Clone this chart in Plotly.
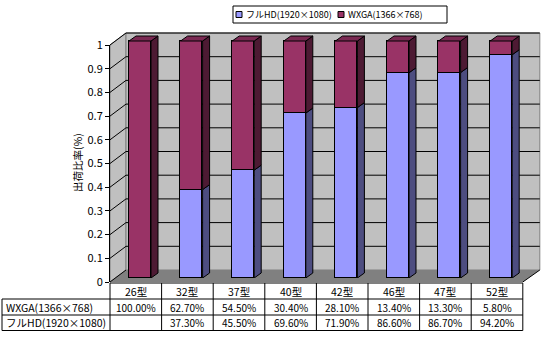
import numpy as np
import plotly.graph_objects as go

# ---------------- data ----------------
categories = ["26型", "32型", "37型", "40型", "42型", "46型", "47型", "52型"]
series_names = ["フルHD(1920×1080)", "WXGA(1366×768)"]
fullhd = [0.0, 0.373, 0.455, 0.696, 0.719, 0.866, 0.867, 0.942]
wxga = [1.000, 0.627, 0.545, 0.304, 0.281, 0.134, 0.133, 0.058]
fullhd_text = ["", "37.30%", "45.50%", "69.60%", "71.90%", "86.60%", "86.70%", "94.20%"]
wxga_text = ["100.00%", "62.70%", "54.50%", "30.40%", "28.10%", "13.40%", "13.30%", "5.80%"]
y_ticks = [0, 0.1, 0.2, 0.3, 0.4, 0.5, 0.6, 0.7, 0.8, 0.9, 1]
y_ticktext = ["0", "0.1", "0.2", "0.3", "0.4", "0.5", "0.6", "0.7", "0.8", "0.9", "1"]
y_title = "出荷比率(%)"

# ---------------- geometry (pixels) ----------------
W, H = 547, 341
FONT = "Noto Sans CJK JP"
n = len(categories)
FX0, FX1 = 110.0, 522.8          # front plane category span
COLW = (FX1 - FX0) / n
FY0, FS = 282.0, 237.0           # front plane v=0 and px per unit
DX, DY = 16.0, -12.0             # wall depth
BDX, BDY = 7.0, -5.0             # bar depth
BAR_OFF_X, BAR_Y0 = 4.2, 278.0   # bar front plane
BAR_W = 22.0 / COLW

def px(x):
    return x / W

def py(y):
    return 1 - y / H

idx = np.arange(n)
colors = {"fhd": ("#9999FF", "#4D4D80", "#7A7ACC"),
          "wx": ("#993366", "#4D1A33", "#7A2952")}

fig = go.Figure()
fig.add_trace(go.Bar(x=idx, y=fullhd, name=series_names[0], width=BAR_W,
                     marker=dict(color=colors["fhd"][0], line=dict(color="black", width=1)),
                     xaxis="x", yaxis="y"))
fig.add_trace(go.Bar(x=idx, y=wxga, name=series_names[1], width=BAR_W,
                     marker=dict(color=colors["wx"][0], line=dict(color="black", width=1)),
                     xaxis="x", yaxis="y"))
fig.add_trace(go.Scatter(x=[None], y=[None], xaxis="x2", yaxis="y2",
                         showlegend=False, hoverinfo="skip"))

shapes = []
wall_top = FY0 + DY - FS
wall_bot = FY0 + DY
wall_l, wall_r = FX0 + DX, FX1 + DX + 1

def ppath(pts):
    return "M " + " L ".join(f"{px(x):.5f},{py(y):.5f}" for x, y in pts) + " Z"

# side wall and back wall
shapes.append(dict(type="path", xref="paper", yref="paper", layer="below",
                   path=ppath([(FX0, FY0 - FS), (wall_l, wall_top), (wall_l, wall_bot), (FX0, FY0)]),
                   fillcolor="#C0C0C0", line=dict(color="#808080", width=1)))
shapes.append(dict(type="rect", xref="paper", yref="paper", layer="below",
                   x0=px(wall_l), x1=px(wall_r), y0=py(wall_bot), y1=py(wall_top),
                   fillcolor="#C0C0C0", line=dict(color="#808080", width=1)))
# floor
shapes.append(dict(type="path", xref="paper", yref="paper", layer="below",
                   path=ppath([(FX0, FY0), (wall_l, wall_bot), (wall_r, wall_bot), (FX1, FY0)]),
                   fillcolor="#808080", line=dict(width=0)))
shapes.append(dict(type="line", xref="paper", yref="paper", layer="below",
                   x0=px(FX1), y0=py(FY0), x1=px(wall_r), y1=py(wall_bot),
                   line=dict(color="black", width=1)))
# gridlines
for v in y_ticks:
    yf = FY0 - FS * v
    yb = yf + DY
    shapes.append(dict(type="line", xref="paper", yref="paper", layer="below",
                       x0=px(FX0), y0=py(yf), x1=px(wall_l), y1=py(yb),
                       line=dict(color="black", width=1)))
    if v > 0:
        shapes.append(dict(type="line", xref="paper", yref="paper", layer="below",
                           x0=px(wall_l), y0=py(yb), x1=px(wall_r), y1=py(yb),
                           line=dict(color="black", width=1)))

# 3D faces of bars (bar axes units)
ddx = BDX / COLW
ddy = -BDY / FS

def dpath(pts):
    return "M " + " L ".join(f"{x:.5f},{y:.5f}" for x, y in pts) + " Z"

for i in range(n):
    segs = []
    base = 0.0
    for key, vals in (("fhd", fullhd), ("wx", wxga)):
        if vals[i] > 0:
            segs.append((key, base, base + vals[i]))
            base += vals[i]
    for k, (key, b, t) in enumerate(segs):
        r = i + BAR_W / 2
        l = i - BAR_W / 2
        shapes.append(dict(type="path", xref="x", yref="y", layer="above",
                           path=dpath([(r, b), (r + ddx, b + ddy), (r + ddx, t + ddy), (r, t)]),
                           fillcolor=colors[key][1], line=dict(color="black", width=1)))
        if k == len(segs) - 1:
            shapes.append(dict(type="path", xref="x", yref="y", layer="above",
                               path=dpath([(l, t), (l + ddx, t + ddy), (r + ddx, t + ddy), (r, t)]),
                               fillcolor=colors[key][2], line=dict(color="black", width=1)))

# data table
rows_y = [283.0, 299.0, 315.0, 330.5]
LBL_X = 2.0
for k, yv in enumerate(rows_y):
    x0 = FX0 if k == 0 else LBL_X
    shapes.append(dict(type="line", xref="paper", yref="paper", layer="above",
                       x0=px(x0), x1=px(FX1), y0=py(yv), y1=py(yv),
                       line=dict(color="black", width=1)))
shapes.append(dict(type="line", xref="paper", yref="paper", layer="above",
                   x0=px(LBL_X), x1=px(LBL_X), y0=py(rows_y[1]), y1=py(rows_y[3]),
                   line=dict(color="black", width=1)))
for k in range(n + 1):
    xv = FX0 + COLW * k
    shapes.append(dict(type="line", xref="paper", yref="paper", layer="above",
                       x0=px(xv), x1=px(xv), y0=py(rows_y[0]), y1=py(rows_y[3]),
                       line=dict(color="black", width=1)))

annotations = []
row_c = [(rows_y[j] + rows_y[j + 1]) / 2 for j in range(3)]

def ann(**kw):
    d = dict(showarrow=False, xanchor="center", yanchor="middle")
    d.update(kw)
    annotations.append(d)

for i, c in enumerate(categories):
    ann(x=i, y=py(row_c[0]), xref="x2", yref="paper", text=c,
        font=dict(size=10.5, family=FONT, color="black"))
    ann(x=i, y=py(row_c[1]), xref="x2", yref="paper", text=wxga_text[i],
        font=dict(size=10, family=FONT, color="black"))
    if fullhd_text[i]:
        ann(x=i, y=py(row_c[2]), xref="x2", yref="paper", text=fullhd_text[i],
            font=dict(size=10, family=FONT, color="black"))
ann(x=px(LBL_X + 2), y=py(row_c[1]), xref="paper", yref="paper",
    text=series_names[1], xanchor="left", font=dict(size=10.5, family=FONT, color="black"))
ann(x=px(LBL_X + 2), y=py(row_c[2]), xref="paper", yref="paper",
    text=series_names[0], xanchor="left", font=dict(size=10.5, family=FONT, color="black"))
# y title
ann(x=px(77), y=py(163), xref="paper", yref="paper", text=y_title, textangle=-90,
    font=dict(size=10.5, family=FONT, color="black"))

# manual legend
LG = dict(x0=233, x1=447, y0=6, y1=23)
shapes.append(dict(type="rect", xref="paper", yref="paper", layer="above",
                   x0=px(LG["x0"]), x1=px(LG["x1"]), y0=py(LG["y1"]), y1=py(LG["y0"]),
                   fillcolor="white", line=dict(color="black", width=1)))
lg_cy = (LG["y0"] + LG["y1"]) / 2
for sx, name, key in ((236, series_names[0], "fhd"), (338, series_names[1], "wx")):
    shapes.append(dict(type="rect", xref="paper", yref="paper", layer="above",
                       x0=px(sx), x1=px(sx + 6), y0=py(lg_cy + 3), y1=py(lg_cy - 3),
                       fillcolor=colors[key][0], line=dict(color="black", width=1)))
    ann(x=px(sx + 8), y=py(lg_cy), xref="paper", yref="paper", text=name, xanchor="left",
        font=dict(size=9, family=FONT, color="black"))

bar_x0 = FX0 + BAR_OFF_X
x_range = [-0.5, 7.8]
bar_x1 = bar_x0 + (x_range[1] - x_range[0]) * COLW
y_range = [0, 1.06]
bar_ytop = BAR_Y0 - y_range[1] * FS

fig.update_layout(
    width=W, height=H,
    margin=dict(l=0, r=0, t=0, b=0, pad=0, autoexpand=False),
    paper_bgcolor="white", plot_bgcolor="rgba(0,0,0,0)",
    barmode="stack", bargap=0, showlegend=False,
    font=dict(family=FONT, size=11, color="black"),
    xaxis=dict(domain=[px(bar_x0), px(bar_x1)], range=x_range, visible=False,
               anchor="y", automargin=False),
    yaxis=dict(domain=[py(BAR_Y0), py(bar_ytop)], range=y_range, visible=False,
               anchor="x", automargin=False),
    xaxis2=dict(domain=[px(FX0), px(FX1)], range=[-0.5, n - 0.5], visible=False,
                anchor="y2", automargin=False),
    yaxis2=dict(domain=[py(FY0), py(FY0 - FS)], range=[0, 1], anchor="x2",
                tickvals=y_ticks, ticktext=y_ticktext, showgrid=False, zeroline=False,
                showline=True, linecolor="black", linewidth=1, ticks="outside",
                ticklen=4, tickcolor="black", tickfont=dict(size=11, family=FONT),
                automargin=False),
    shapes=shapes, annotations=annotations,
)

fig.write_html("out.html")
